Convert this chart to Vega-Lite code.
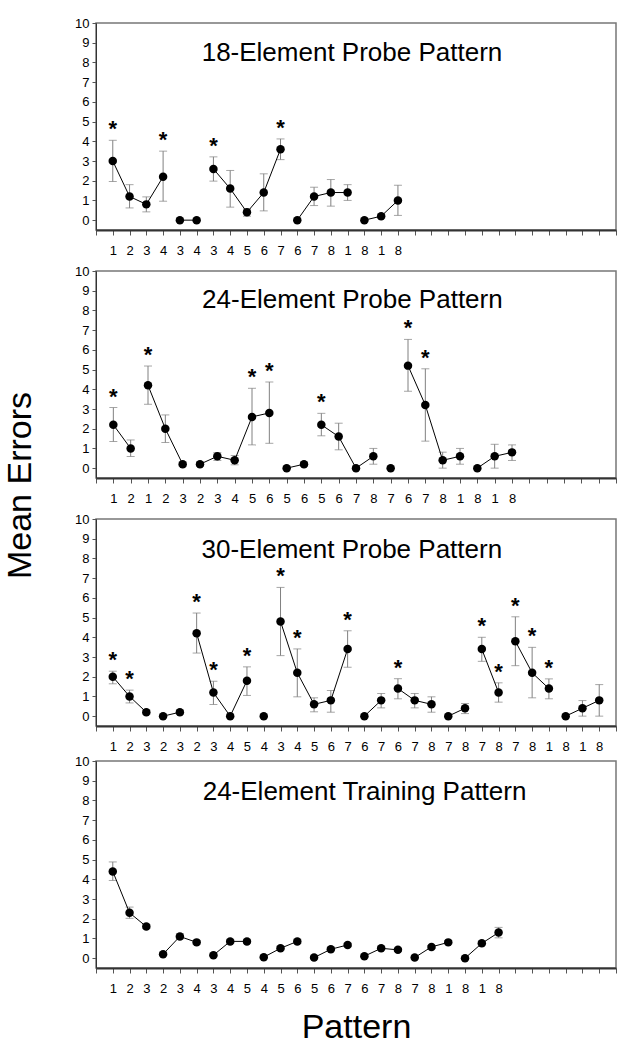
{
  "$schema": "https://vega.github.io/schema/vega-lite/v6.json",
  "padding": {"left": 3, "top": 16, "right": 5, "bottom": 5},
  "title": {"text": "Mean Errors", "orient": "left", "anchor": "middle", "fontSize": 34, "fontWeight": "normal", "color": "black", "font": "Liberation Sans", "offset": 36, "dx": 45},
  "config": {
    "font": "Liberation Sans",
    "view": {"stroke": "#777", "strokeWidth": 1.5}
  },
  "data": {"values": [
    {"p":1,"x":1,"g":"a","m":3.0,"lo":1.96,"hi":4.05,"s":1},
    {"p":1,"x":2,"g":"a","m":1.2,"lo":0.62,"hi":1.8,"s":0},
    {"p":1,"x":3,"g":"a","m":0.8,"lo":0.42,"hi":1.18,"s":0},
    {"p":1,"x":4,"g":"a","m":2.2,"lo":0.96,"hi":3.5,"s":1},
    {"p":1,"x":5,"g":"b","m":0,"lo":null,"hi":null,"s":0},
    {"p":1,"x":6,"g":"b","m":0,"lo":null,"hi":null,"s":0},
    {"p":1,"x":7,"g":"c","m":2.6,"lo":1.98,"hi":3.21,"s":1},
    {"p":1,"x":8,"g":"c","m":1.6,"lo":0.66,"hi":2.52,"s":0},
    {"p":1,"x":9,"g":"c","m":0.4,"lo":0.2,"hi":0.57,"s":0},
    {"p":1,"x":10,"g":"c","m":1.4,"lo":0.47,"hi":2.35,"s":0},
    {"p":1,"x":11,"g":"c","m":3.6,"lo":3.07,"hi":4.12,"s":1},
    {"p":1,"x":12,"g":"d","m":0,"lo":null,"hi":null,"s":0},
    {"p":1,"x":13,"g":"d","m":1.2,"lo":0.74,"hi":1.67,"s":0},
    {"p":1,"x":14,"g":"d","m":1.4,"lo":0.71,"hi":2.06,"s":0},
    {"p":1,"x":15,"g":"d","m":1.4,"lo":1.0,"hi":1.8,"s":0},
    {"p":1,"x":16,"g":"e","m":0,"lo":null,"hi":null,"s":0},
    {"p":1,"x":17,"g":"e","m":0.2,"lo":0.1,"hi":0.3,"s":0},
    {"p":1,"x":18,"g":"e","m":1.0,"lo":0.24,"hi":1.77,"s":0},

    {"p":2,"x":1,"g":"a","m":2.2,"lo":1.35,"hi":3.07,"s":1},
    {"p":2,"x":2,"g":"a","m":1.0,"lo":0.59,"hi":1.43,"s":0},
    {"p":2,"x":3,"g":"b","m":4.2,"lo":3.24,"hi":5.18,"s":1},
    {"p":2,"x":4,"g":"b","m":2.0,"lo":1.3,"hi":2.7,"s":0},
    {"p":2,"x":5,"g":"b","m":0.2,"lo":0.1,"hi":0.3,"s":0},
    {"p":2,"x":6,"g":"c","m":0.2,"lo":0.1,"hi":0.3,"s":0},
    {"p":2,"x":7,"g":"c","m":0.6,"lo":0.39,"hi":0.79,"s":0},
    {"p":2,"x":8,"g":"c","m":0.4,"lo":0.17,"hi":0.64,"s":0},
    {"p":2,"x":9,"g":"c","m":2.6,"lo":1.18,"hi":4.05,"s":1},
    {"p":2,"x":10,"g":"c","m":2.8,"lo":1.26,"hi":4.37,"s":1},
    {"p":2,"x":11,"g":"d","m":0,"lo":null,"hi":null,"s":0},
    {"p":2,"x":12,"g":"d","m":0.2,"lo":0.1,"hi":0.3,"s":0},
    {"p":2,"x":13,"g":"e","m":2.2,"lo":1.64,"hi":2.78,"s":1},
    {"p":2,"x":14,"g":"e","m":1.6,"lo":0.93,"hi":2.28,"s":0},
    {"p":2,"x":15,"g":"e","m":0,"lo":null,"hi":null,"s":0},
    {"p":2,"x":16,"g":"e","m":0.6,"lo":0.2,"hi":1.0,"s":0},
    {"p":2,"x":17,"g":"f","m":0,"lo":null,"hi":null,"s":0},
    {"p":2,"x":18,"g":"g","m":5.2,"lo":3.9,"hi":6.53,"s":1},
    {"p":2,"x":19,"g":"g","m":3.2,"lo":1.37,"hi":5.04,"s":1},
    {"p":2,"x":20,"g":"g","m":0.4,"lo":0.0,"hi":0.81,"s":0},
    {"p":2,"x":21,"g":"g","m":0.6,"lo":0.2,"hi":1.0,"s":0},
    {"p":2,"x":22,"g":"h","m":0,"lo":null,"hi":null,"s":0},
    {"p":2,"x":23,"g":"h","m":0.6,"lo":0.0,"hi":1.21,"s":0},
    {"p":2,"x":24,"g":"h","m":0.8,"lo":0.39,"hi":1.18,"s":0},

    {"p":3,"x":1,"g":"a","m":2.0,"lo":1.64,"hi":2.28,"s":1},
    {"p":3,"x":2,"g":"a","m":1.0,"lo":0.67,"hi":1.32,"s":1},
    {"p":3,"x":3,"g":"a","m":0.2,"lo":0.1,"hi":0.3,"s":0},
    {"p":3,"x":4,"g":"b","m":0,"lo":null,"hi":null,"s":0},
    {"p":3,"x":5,"g":"b","m":0.2,"lo":0.1,"hi":0.3,"s":0},
    {"p":3,"x":6,"g":"c","m":4.2,"lo":3.2,"hi":5.23,"s":1},
    {"p":3,"x":7,"g":"c","m":1.2,"lo":0.59,"hi":1.77,"s":1},
    {"p":3,"x":8,"g":"c","m":0,"lo":null,"hi":null,"s":0},
    {"p":3,"x":9,"g":"c","m":1.8,"lo":1.05,"hi":2.5,"s":1},
    {"p":3,"x":10,"g":"d","m":0,"lo":null,"hi":null,"s":0},
    {"p":3,"x":11,"g":"e","m":4.8,"lo":3.07,"hi":6.53,"s":1},
    {"p":3,"x":12,"g":"e","m":2.2,"lo":0.98,"hi":3.41,"s":1},
    {"p":3,"x":13,"g":"e","m":0.6,"lo":0.22,"hi":0.93,"s":0},
    {"p":3,"x":14,"g":"e","m":0.8,"lo":0.2,"hi":1.3,"s":0},
    {"p":3,"x":15,"g":"e","m":3.4,"lo":2.48,"hi":4.33,"s":1},
    {"p":3,"x":16,"g":"f","m":0,"lo":null,"hi":null,"s":0},
    {"p":3,"x":17,"g":"f","m":0.8,"lo":0.42,"hi":1.15,"s":0},
    {"p":3,"x":18,"g":"g","m":1.4,"lo":0.88,"hi":1.9,"s":1},
    {"p":3,"x":19,"g":"g","m":0.8,"lo":0.42,"hi":1.15,"s":0},
    {"p":3,"x":20,"g":"g","m":0.6,"lo":0.2,"hi":0.98,"s":0},
    {"p":3,"x":21,"g":"h","m":0,"lo":null,"hi":null,"s":0},
    {"p":3,"x":22,"g":"h","m":0.4,"lo":0.13,"hi":0.64,"s":0},
    {"p":3,"x":23,"g":"i","m":3.4,"lo":2.78,"hi":4.0,"s":1},
    {"p":3,"x":24,"g":"i","m":1.2,"lo":0.71,"hi":1.69,"s":1},
    {"p":3,"x":25,"g":"j","m":3.8,"lo":2.56,"hi":5.04,"s":1},
    {"p":3,"x":26,"g":"j","m":2.2,"lo":0.93,"hi":3.49,"s":1},
    {"p":3,"x":27,"g":"j","m":1.4,"lo":0.88,"hi":1.89,"s":1},
    {"p":3,"x":28,"g":"k","m":0,"lo":null,"hi":null,"s":0},
    {"p":3,"x":29,"g":"k","m":0.4,"lo":0.0,"hi":0.79,"s":0},
    {"p":3,"x":30,"g":"k","m":0.8,"lo":0.0,"hi":1.6,"s":0},

    {"p":4,"x":1,"g":"a","m":4.4,"lo":3.94,"hi":4.88,"s":0},
    {"p":4,"x":2,"g":"a","m":2.3,"lo":2.02,"hi":2.59,"s":0},
    {"p":4,"x":3,"g":"a","m":1.6,"lo":1.5,"hi":1.7,"s":0},
    {"p":4,"x":4,"g":"b","m":0.2,"lo":0.13,"hi":0.27,"s":0},
    {"p":4,"x":5,"g":"b","m":1.1,"lo":0.98,"hi":1.24,"s":0},
    {"p":4,"x":6,"g":"b","m":0.8,"lo":0.7,"hi":0.88,"s":0},
    {"p":4,"x":7,"g":"c","m":0.15,"lo":0.1,"hi":0.2,"s":0},
    {"p":4,"x":8,"g":"c","m":0.85,"lo":0.77,"hi":0.93,"s":0},
    {"p":4,"x":9,"g":"c","m":0.85,"lo":0.77,"hi":0.93,"s":0},
    {"p":4,"x":10,"g":"d","m":0.05,"lo":0.02,"hi":0.08,"s":0},
    {"p":4,"x":11,"g":"d","m":0.5,"lo":0.42,"hi":0.58,"s":0},
    {"p":4,"x":12,"g":"d","m":0.85,"lo":0.74,"hi":0.96,"s":0},
    {"p":4,"x":13,"g":"e","m":0.03,"lo":0.01,"hi":0.05,"s":0},
    {"p":4,"x":14,"g":"e","m":0.45,"lo":0.38,"hi":0.52,"s":0},
    {"p":4,"x":15,"g":"e","m":0.67,"lo":0.58,"hi":0.76,"s":0},
    {"p":4,"x":16,"g":"f","m":0.1,"lo":0.06,"hi":0.14,"s":0},
    {"p":4,"x":17,"g":"f","m":0.5,"lo":0.43,"hi":0.57,"s":0},
    {"p":4,"x":18,"g":"f","m":0.42,"lo":0.36,"hi":0.48,"s":0},
    {"p":4,"x":19,"g":"g","m":0.03,"lo":0.01,"hi":0.05,"s":0},
    {"p":4,"x":20,"g":"g","m":0.57,"lo":0.5,"hi":0.64,"s":0},
    {"p":4,"x":21,"g":"g","m":0.8,"lo":0.72,"hi":0.88,"s":0},
    {"p":4,"x":22,"g":"h","m":0,"lo":null,"hi":null,"s":0},
    {"p":4,"x":23,"g":"h","m":0.75,"lo":0.67,"hi":0.83,"s":0},
    {"p":4,"x":24,"g":"h","m":1.3,"lo":1.03,"hi":1.56,"s":0}
  ]},
  "spacing": 0,
  "vconcat": [
    {
      "spacing": 6,
      "vconcat": [
        {
          "width": 520, "height": 207,
          "transform": [{"filter": "datum.p == 1"}],
          "encoding": {
            "x": {"field": "x", "type": "quantitative", "title": null, "scale": {"domain": [0, 31], "nice": false, "zero": false},
                  "axis": {"values": [0,1,2,3,4,5,6,7,8,9,10,11,12,13,14,15,16,17,18,19,20,21,22,23,24,25,26,27,28,29,30,31], "title": null, "grid": false, "tickSize": 5, "labelPadding": 9, "domainWidth": 2, "domainColor": "#333", "tickColor": "#555", "labelColor": "black", "labelFontSize": 13, "labelFont": "Liberation Sans", "labelOverlap": false, "labelFlush": false,
                           "labelExpr": "['','1','2','3','4','3','4','3','4','5','6','7','6','7','8','1','8','1','8'][datum.value] || ''"}}
          },
          "layer": [
            {"transform": [{"filter": "isValid(datum.hi)"}],
             "mark": {"type": "rule", "color": "#808080", "strokeWidth": 1},
             "encoding": {"y": {"field": "lo", "type": "quantitative", "title": null, "scale": {"domain": [-0.5, 10], "nice": false, "zero": false},
                                "axis": {"values": [0,1,2,3,4,5,6,7,8,9,10], "title": null, "grid": false, "tickSize": 4, "labelPadding": 3, "domainColor": "#333", "tickColor": "#555", "labelColor": "black", "labelFontSize": 13, "labelFont": "Liberation Sans", "labelOverlap": false}},
                          "y2": {"field": "hi"}}},
            {"transform": [{"filter": "isValid(datum.hi)"}],
             "mark": {"type": "tick", "orient": "horizontal", "color": "#808080", "size": 8, "thickness": 1},
             "encoding": {"y": {"field": "hi", "type": "quantitative", "title": null, "scale": {"domain": [-0.5, 10], "nice": false, "zero": false},
                                "axis": {"values": [0,1,2,3,4,5,6,7,8,9,10], "title": null, "grid": false, "tickSize": 4, "labelPadding": 3, "domainColor": "#333", "tickColor": "#555", "labelColor": "black", "labelFontSize": 13, "labelFont": "Liberation Sans", "labelOverlap": false}}}},
            {"transform": [{"filter": "isValid(datum.lo)"}],
             "mark": {"type": "tick", "orient": "horizontal", "color": "#808080", "size": 8, "thickness": 1},
             "encoding": {"y": {"field": "lo", "type": "quantitative", "title": null, "scale": {"domain": [-0.5, 10], "nice": false, "zero": false},
                                "axis": {"values": [0,1,2,3,4,5,6,7,8,9,10], "title": null, "grid": false, "tickSize": 4, "labelPadding": 3, "domainColor": "#333", "tickColor": "#555", "labelColor": "black", "labelFontSize": 13, "labelFont": "Liberation Sans", "labelOverlap": false}}}},
            {"mark": {"type": "line", "color": "black", "strokeWidth": 1},
             "encoding": {"y": {"field": "m", "type": "quantitative", "title": null, "scale": {"domain": [-0.5, 10], "nice": false, "zero": false},
                                "axis": {"values": [0,1,2,3,4,5,6,7,8,9,10], "title": null, "grid": false, "tickSize": 4, "labelPadding": 3, "domainColor": "#333", "tickColor": "#555", "labelColor": "black", "labelFontSize": 13, "labelFont": "Liberation Sans", "labelOverlap": false}},
                          "detail": {"field": "g"}}},
            {"mark": {"type": "point", "filled": true, "shape": "circle", "size": 72, "color": "black", "opacity": 1},
             "encoding": {"y": {"field": "m", "type": "quantitative", "title": null, "scale": {"domain": [-0.5, 10], "nice": false, "zero": false},
                                "axis": {"values": [0,1,2,3,4,5,6,7,8,9,10], "title": null, "grid": false, "tickSize": 4, "labelPadding": 3, "domainColor": "#333", "tickColor": "#555", "labelColor": "black", "labelFontSize": 13, "labelFont": "Liberation Sans", "labelOverlap": false}}}},
            {"transform": [{"filter": "datum.s == 1"}],
             "mark": {"type": "text", "text": "*", "fontSize": 22, "fontWeight": "bold", "baseline": "alphabetic", "dy": -4, "color": "black"},
             "encoding": {"y": {"field": "hi", "type": "quantitative", "title": null, "scale": {"domain": [-0.5, 10], "nice": false, "zero": false},
                                "axis": {"values": [0,1,2,3,4,5,6,7,8,9,10], "title": null, "grid": false, "tickSize": 4, "labelPadding": 3, "domainColor": "#333", "tickColor": "#555", "labelColor": "black", "labelFontSize": 13, "labelFont": "Liberation Sans", "labelOverlap": false}}}},
            {"data": {"values": [{"t": "18-Element Probe Pattern", "tx": 6.3, "ty": 8.05}]},
             "mark": {"type": "text", "align": "left", "baseline": "alphabetic", "fontSize": 26, "color": "black"},
             "encoding": {"x": {"field": "tx", "type": "quantitative", "title": null, "scale": {"domain": [0, 31], "nice": false, "zero": false},
                                "axis": {"values": [0,1,2,3,4,5,6,7,8,9,10,11,12,13,14,15,16,17,18,19,20,21,22,23,24,25,26,27,28,29,30,31], "title": null, "grid": false, "tickSize": 5, "labelPadding": 9, "domainWidth": 2, "domainColor": "#333", "tickColor": "#555", "labelColor": "black", "labelFontSize": 13, "labelFont": "Liberation Sans", "labelOverlap": false, "labelFlush": false,
                                         "labelExpr": "['','1','2','3','4','3','4','3','4','5','6','7','6','7','8','1','8','1','8'][datum.value] || ''"}},
                          "y": {"field": "ty", "type": "quantitative", "title": null, "scale": {"domain": [-0.5, 10], "nice": false, "zero": false},
                                "axis": {"values": [0,1,2,3,4,5,6,7,8,9,10], "title": null, "grid": false, "tickSize": 4, "labelPadding": 3, "domainColor": "#333", "tickColor": "#555", "labelColor": "black", "labelFontSize": 13, "labelFont": "Liberation Sans", "labelOverlap": false}},
                          "text": {"field": "t"}}}
          ]
        },
        {
          "width": 520, "height": 207,
          "transform": [{"filter": "datum.p == 2"}],
          "encoding": {
            "x": {"field": "x", "type": "quantitative", "title": null, "scale": {"domain": [0, 30], "nice": false, "zero": false},
                  "axis": {"values": [0,1,2,3,4,5,6,7,8,9,10,11,12,13,14,15,16,17,18,19,20,21,22,23,24,25,26,27,28,29,30], "title": null, "grid": false, "tickSize": 5, "labelPadding": 9, "domainWidth": 2, "domainColor": "#333", "tickColor": "#555", "labelColor": "black", "labelFontSize": 13, "labelFont": "Liberation Sans", "labelOverlap": false, "labelFlush": false,
                           "labelExpr": "['','1','2','1','2','3','2','3','4','5','6','5','6','5','6','7','8','7','6','7','8','1','8','1','8'][datum.value] || ''"}}
          },
          "layer": [
            {"transform": [{"filter": "isValid(datum.hi)"}],
             "mark": {"type": "rule", "color": "#808080", "strokeWidth": 1},
             "encoding": {"y": {"field": "lo", "type": "quantitative", "title": null, "scale": {"domain": [-0.5, 10], "nice": false, "zero": false},
                                "axis": {"values": [0,1,2,3,4,5,6,7,8,9,10], "title": null, "grid": false, "tickSize": 4, "labelPadding": 3, "domainColor": "#333", "tickColor": "#555", "labelColor": "black", "labelFontSize": 13, "labelFont": "Liberation Sans", "labelOverlap": false}},
                          "y2": {"field": "hi"}}},
            {"transform": [{"filter": "isValid(datum.hi)"}],
             "mark": {"type": "tick", "orient": "horizontal", "color": "#808080", "size": 8, "thickness": 1},
             "encoding": {"y": {"field": "hi", "type": "quantitative", "title": null, "scale": {"domain": [-0.5, 10], "nice": false, "zero": false},
                                "axis": {"values": [0,1,2,3,4,5,6,7,8,9,10], "title": null, "grid": false, "tickSize": 4, "labelPadding": 3, "domainColor": "#333", "tickColor": "#555", "labelColor": "black", "labelFontSize": 13, "labelFont": "Liberation Sans", "labelOverlap": false}}}},
            {"transform": [{"filter": "isValid(datum.lo)"}],
             "mark": {"type": "tick", "orient": "horizontal", "color": "#808080", "size": 8, "thickness": 1},
             "encoding": {"y": {"field": "lo", "type": "quantitative", "title": null, "scale": {"domain": [-0.5, 10], "nice": false, "zero": false},
                                "axis": {"values": [0,1,2,3,4,5,6,7,8,9,10], "title": null, "grid": false, "tickSize": 4, "labelPadding": 3, "domainColor": "#333", "tickColor": "#555", "labelColor": "black", "labelFontSize": 13, "labelFont": "Liberation Sans", "labelOverlap": false}}}},
            {"mark": {"type": "line", "color": "black", "strokeWidth": 1},
             "encoding": {"y": {"field": "m", "type": "quantitative", "title": null, "scale": {"domain": [-0.5, 10], "nice": false, "zero": false},
                                "axis": {"values": [0,1,2,3,4,5,6,7,8,9,10], "title": null, "grid": false, "tickSize": 4, "labelPadding": 3, "domainColor": "#333", "tickColor": "#555", "labelColor": "black", "labelFontSize": 13, "labelFont": "Liberation Sans", "labelOverlap": false}},
                          "detail": {"field": "g"}}},
            {"mark": {"type": "point", "filled": true, "shape": "circle", "size": 72, "color": "black", "opacity": 1},
             "encoding": {"y": {"field": "m", "type": "quantitative", "title": null, "scale": {"domain": [-0.5, 10], "nice": false, "zero": false},
                                "axis": {"values": [0,1,2,3,4,5,6,7,8,9,10], "title": null, "grid": false, "tickSize": 4, "labelPadding": 3, "domainColor": "#333", "tickColor": "#555", "labelColor": "black", "labelFontSize": 13, "labelFont": "Liberation Sans", "labelOverlap": false}}}},
            {"transform": [{"filter": "datum.s == 1"}],
             "mark": {"type": "text", "text": "*", "fontSize": 22, "fontWeight": "bold", "baseline": "alphabetic", "dy": -4, "color": "black"},
             "encoding": {"y": {"field": "hi", "type": "quantitative", "title": null, "scale": {"domain": [-0.5, 10], "nice": false, "zero": false},
                                "axis": {"values": [0,1,2,3,4,5,6,7,8,9,10], "title": null, "grid": false, "tickSize": 4, "labelPadding": 3, "domainColor": "#333", "tickColor": "#555", "labelColor": "black", "labelFontSize": 13, "labelFont": "Liberation Sans", "labelOverlap": false}}}},
            {"data": {"values": [{"t": "24-Element Probe Pattern", "tx": 6.12, "ty": 8.1}]},
             "mark": {"type": "text", "align": "left", "baseline": "alphabetic", "fontSize": 26, "color": "black"},
             "encoding": {"x": {"field": "tx", "type": "quantitative", "title": null, "scale": {"domain": [0, 30], "nice": false, "zero": false},
                                "axis": {"values": [0,1,2,3,4,5,6,7,8,9,10,11,12,13,14,15,16,17,18,19,20,21,22,23,24,25,26,27,28,29,30], "title": null, "grid": false, "tickSize": 5, "labelPadding": 9, "domainWidth": 2, "domainColor": "#333", "tickColor": "#555", "labelColor": "black", "labelFontSize": 13, "labelFont": "Liberation Sans", "labelOverlap": false, "labelFlush": false,
                                         "labelExpr": "['','1','2','1','2','3','2','3','4','5','6','5','6','5','6','7','8','7','6','7','8','1','8','1','8'][datum.value] || ''"}},
                          "y": {"field": "ty", "type": "quantitative", "title": null, "scale": {"domain": [-0.5, 10], "nice": false, "zero": false},
                                "axis": {"values": [0,1,2,3,4,5,6,7,8,9,10], "title": null, "grid": false, "tickSize": 4, "labelPadding": 3, "domainColor": "#333", "tickColor": "#555", "labelColor": "black", "labelFontSize": 13, "labelFont": "Liberation Sans", "labelOverlap": false}},
                          "text": {"field": "t"}}}
          ]
        },
        {
          "width": 520, "height": 207,
          "transform": [{"filter": "datum.p == 3"}],
          "encoding": {
            "x": {"field": "x", "type": "quantitative", "title": null, "scale": {"domain": [0, 31], "nice": false, "zero": false},
                  "axis": {"values": [0,1,2,3,4,5,6,7,8,9,10,11,12,13,14,15,16,17,18,19,20,21,22,23,24,25,26,27,28,29,30,31], "title": null, "grid": false, "tickSize": 5, "labelPadding": 9, "domainWidth": 2, "domainColor": "#333", "tickColor": "#555", "labelColor": "black", "labelFontSize": 13, "labelFont": "Liberation Sans", "labelOverlap": false, "labelFlush": false,
                           "labelExpr": "['','1','2','3','2','3','2','3','4','5','4','3','4','5','6','7','6','7','6','7','8','7','8','7','8','7','8','1','8','1','8'][datum.value] || ''"}}
          },
          "layer": [
            {"transform": [{"filter": "isValid(datum.hi)"}],
             "mark": {"type": "rule", "color": "#808080", "strokeWidth": 1},
             "encoding": {"y": {"field": "lo", "type": "quantitative", "title": null, "scale": {"domain": [-0.5, 10], "nice": false, "zero": false},
                                "axis": {"values": [0,1,2,3,4,5,6,7,8,9,10], "title": null, "grid": false, "tickSize": 4, "labelPadding": 3, "domainColor": "#333", "tickColor": "#555", "labelColor": "black", "labelFontSize": 13, "labelFont": "Liberation Sans", "labelOverlap": false}},
                          "y2": {"field": "hi"}}},
            {"transform": [{"filter": "isValid(datum.hi)"}],
             "mark": {"type": "tick", "orient": "horizontal", "color": "#808080", "size": 8, "thickness": 1},
             "encoding": {"y": {"field": "hi", "type": "quantitative", "title": null, "scale": {"domain": [-0.5, 10], "nice": false, "zero": false},
                                "axis": {"values": [0,1,2,3,4,5,6,7,8,9,10], "title": null, "grid": false, "tickSize": 4, "labelPadding": 3, "domainColor": "#333", "tickColor": "#555", "labelColor": "black", "labelFontSize": 13, "labelFont": "Liberation Sans", "labelOverlap": false}}}},
            {"transform": [{"filter": "isValid(datum.lo)"}],
             "mark": {"type": "tick", "orient": "horizontal", "color": "#808080", "size": 8, "thickness": 1},
             "encoding": {"y": {"field": "lo", "type": "quantitative", "title": null, "scale": {"domain": [-0.5, 10], "nice": false, "zero": false},
                                "axis": {"values": [0,1,2,3,4,5,6,7,8,9,10], "title": null, "grid": false, "tickSize": 4, "labelPadding": 3, "domainColor": "#333", "tickColor": "#555", "labelColor": "black", "labelFontSize": 13, "labelFont": "Liberation Sans", "labelOverlap": false}}}},
            {"mark": {"type": "line", "color": "black", "strokeWidth": 1},
             "encoding": {"y": {"field": "m", "type": "quantitative", "title": null, "scale": {"domain": [-0.5, 10], "nice": false, "zero": false},
                                "axis": {"values": [0,1,2,3,4,5,6,7,8,9,10], "title": null, "grid": false, "tickSize": 4, "labelPadding": 3, "domainColor": "#333", "tickColor": "#555", "labelColor": "black", "labelFontSize": 13, "labelFont": "Liberation Sans", "labelOverlap": false}},
                          "detail": {"field": "g"}}},
            {"mark": {"type": "point", "filled": true, "shape": "circle", "size": 72, "color": "black", "opacity": 1},
             "encoding": {"y": {"field": "m", "type": "quantitative", "title": null, "scale": {"domain": [-0.5, 10], "nice": false, "zero": false},
                                "axis": {"values": [0,1,2,3,4,5,6,7,8,9,10], "title": null, "grid": false, "tickSize": 4, "labelPadding": 3, "domainColor": "#333", "tickColor": "#555", "labelColor": "black", "labelFontSize": 13, "labelFont": "Liberation Sans", "labelOverlap": false}}}},
            {"transform": [{"filter": "datum.s == 1"}],
             "mark": {"type": "text", "text": "*", "fontSize": 22, "fontWeight": "bold", "baseline": "alphabetic", "dy": -4, "color": "black"},
             "encoding": {"y": {"field": "hi", "type": "quantitative", "title": null, "scale": {"domain": [-0.5, 10], "nice": false, "zero": false},
                                "axis": {"values": [0,1,2,3,4,5,6,7,8,9,10], "title": null, "grid": false, "tickSize": 4, "labelPadding": 3, "domainColor": "#333", "tickColor": "#555", "labelColor": "black", "labelFontSize": 13, "labelFont": "Liberation Sans", "labelOverlap": false}}}},
            {"data": {"values": [{"t": "30-Element Probe Pattern", "tx": 6.29, "ty": 8.0}]},
             "mark": {"type": "text", "align": "left", "baseline": "alphabetic", "fontSize": 26, "color": "black"},
             "encoding": {"x": {"field": "tx", "type": "quantitative", "title": null, "scale": {"domain": [0, 31], "nice": false, "zero": false},
                                "axis": {"values": [0,1,2,3,4,5,6,7,8,9,10,11,12,13,14,15,16,17,18,19,20,21,22,23,24,25,26,27,28,29,30,31], "title": null, "grid": false, "tickSize": 5, "labelPadding": 9, "domainWidth": 2, "domainColor": "#333", "tickColor": "#555", "labelColor": "black", "labelFontSize": 13, "labelFont": "Liberation Sans", "labelOverlap": false, "labelFlush": false,
                                         "labelExpr": "['','1','2','3','2','3','2','3','4','5','4','3','4','5','6','7','6','7','6','7','8','7','8','7','8','7','8','1','8','1','8'][datum.value] || ''"}},
                          "y": {"field": "ty", "type": "quantitative", "title": null, "scale": {"domain": [-0.5, 10], "nice": false, "zero": false},
                                "axis": {"values": [0,1,2,3,4,5,6,7,8,9,10], "title": null, "grid": false, "tickSize": 4, "labelPadding": 3, "domainColor": "#333", "tickColor": "#555", "labelColor": "black", "labelFontSize": 13, "labelFont": "Liberation Sans", "labelOverlap": false}},
                          "text": {"field": "t"}}}
          ]
        }
      ]
    },
    {
      "width": 520, "height": 207,
      "transform": [{"filter": "datum.p == 4"}],
      "encoding": {
        "x": {"field": "x", "type": "quantitative", "title": "Pattern", "scale": {"domain": [0, 31], "nice": false, "zero": false},
              "axis": {"values": [0,1,2,3,4,5,6,7,8,9,10,11,12,13,14,15,16,17,18,19,20,21,22,23,24,25,26,27,28,29,30,31], "title": "Pattern", "titleFontSize": 34, "titleFontWeight": "normal", "titleColor": "black", "titleFont": "Liberation Sans", "titlePadding": 15, "grid": false, "tickSize": 5, "labelPadding": 9, "domainWidth": 2, "domainColor": "#333", "tickColor": "#555", "labelColor": "black", "labelFontSize": 13, "labelFont": "Liberation Sans", "labelOverlap": false, "labelFlush": false,
                       "labelExpr": "['','1','2','3','2','3','4','3','4','5','4','5','6','5','6','7','6','7','8','7','8','1','8','1','8'][datum.value] || ''"}}
      },
      "layer": [
        {"transform": [{"filter": "isValid(datum.hi)"}],
         "mark": {"type": "rule", "color": "#808080", "strokeWidth": 1},
         "encoding": {"y": {"field": "lo", "type": "quantitative", "title": null, "scale": {"domain": [-0.5, 10], "nice": false, "zero": false},
                            "axis": {"values": [0,1,2,3,4,5,6,7,8,9,10], "title": null, "grid": false, "tickSize": 4, "labelPadding": 3, "domainColor": "#333", "tickColor": "#555", "labelColor": "black", "labelFontSize": 13, "labelFont": "Liberation Sans", "labelOverlap": false}},
                      "y2": {"field": "hi"}}},
        {"transform": [{"filter": "isValid(datum.hi)"}],
         "mark": {"type": "tick", "orient": "horizontal", "color": "#808080", "size": 8, "thickness": 1},
         "encoding": {"y": {"field": "hi", "type": "quantitative", "title": null, "scale": {"domain": [-0.5, 10], "nice": false, "zero": false},
                            "axis": {"values": [0,1,2,3,4,5,6,7,8,9,10], "title": null, "grid": false, "tickSize": 4, "labelPadding": 3, "domainColor": "#333", "tickColor": "#555", "labelColor": "black", "labelFontSize": 13, "labelFont": "Liberation Sans", "labelOverlap": false}}}},
        {"transform": [{"filter": "isValid(datum.lo)"}],
         "mark": {"type": "tick", "orient": "horizontal", "color": "#808080", "size": 8, "thickness": 1},
         "encoding": {"y": {"field": "lo", "type": "quantitative", "title": null, "scale": {"domain": [-0.5, 10], "nice": false, "zero": false},
                            "axis": {"values": [0,1,2,3,4,5,6,7,8,9,10], "title": null, "grid": false, "tickSize": 4, "labelPadding": 3, "domainColor": "#333", "tickColor": "#555", "labelColor": "black", "labelFontSize": 13, "labelFont": "Liberation Sans", "labelOverlap": false}}}},
        {"mark": {"type": "line", "color": "black", "strokeWidth": 1},
         "encoding": {"y": {"field": "m", "type": "quantitative", "title": null, "scale": {"domain": [-0.5, 10], "nice": false, "zero": false},
                            "axis": {"values": [0,1,2,3,4,5,6,7,8,9,10], "title": null, "grid": false, "tickSize": 4, "labelPadding": 3, "domainColor": "#333", "tickColor": "#555", "labelColor": "black", "labelFontSize": 13, "labelFont": "Liberation Sans", "labelOverlap": false}},
                      "detail": {"field": "g"}}},
        {"mark": {"type": "point", "filled": true, "shape": "circle", "size": 72, "color": "black", "opacity": 1},
         "encoding": {"y": {"field": "m", "type": "quantitative", "title": null, "scale": {"domain": [-0.5, 10], "nice": false, "zero": false},
                            "axis": {"values": [0,1,2,3,4,5,6,7,8,9,10], "title": null, "grid": false, "tickSize": 4, "labelPadding": 3, "domainColor": "#333", "tickColor": "#555", "labelColor": "black", "labelFontSize": 13, "labelFont": "Liberation Sans", "labelOverlap": false}}}},
        {"data": {"values": [{"t": "24-Element Training Pattern", "tx": 6.36, "ty": 8.03}]},
         "mark": {"type": "text", "align": "left", "baseline": "alphabetic", "fontSize": 26, "color": "black"},
         "encoding": {"x": {"field": "tx", "type": "quantitative", "title": "Pattern", "scale": {"domain": [0, 31], "nice": false, "zero": false},
                            "axis": {"values": [0,1,2,3,4,5,6,7,8,9,10,11,12,13,14,15,16,17,18,19,20,21,22,23,24,25,26,27,28,29,30,31], "title": "Pattern", "titleFontSize": 34, "titleFontWeight": "normal", "titleColor": "black", "titleFont": "Liberation Sans", "titlePadding": 15, "grid": false, "tickSize": 5, "labelPadding": 9, "domainWidth": 2, "domainColor": "#333", "tickColor": "#555", "labelColor": "black", "labelFontSize": 13, "labelFont": "Liberation Sans", "labelOverlap": false, "labelFlush": false,
                                     "labelExpr": "['','1','2','3','2','3','4','3','4','5','4','5','6','5','6','7','6','7','8','7','8','1','8','1','8'][datum.value] || ''"}},
                      "y": {"field": "ty", "type": "quantitative", "title": null, "scale": {"domain": [-0.5, 10], "nice": false, "zero": false},
                            "axis": {"values": [0,1,2,3,4,5,6,7,8,9,10], "title": null, "grid": false, "tickSize": 4, "labelPadding": 3, "domainColor": "#333", "tickColor": "#555", "labelColor": "black", "labelFontSize": 13, "labelFont": "Liberation Sans", "labelOverlap": false}},
                      "text": {"field": "t"}}}
      ]
    }
  ]
}
